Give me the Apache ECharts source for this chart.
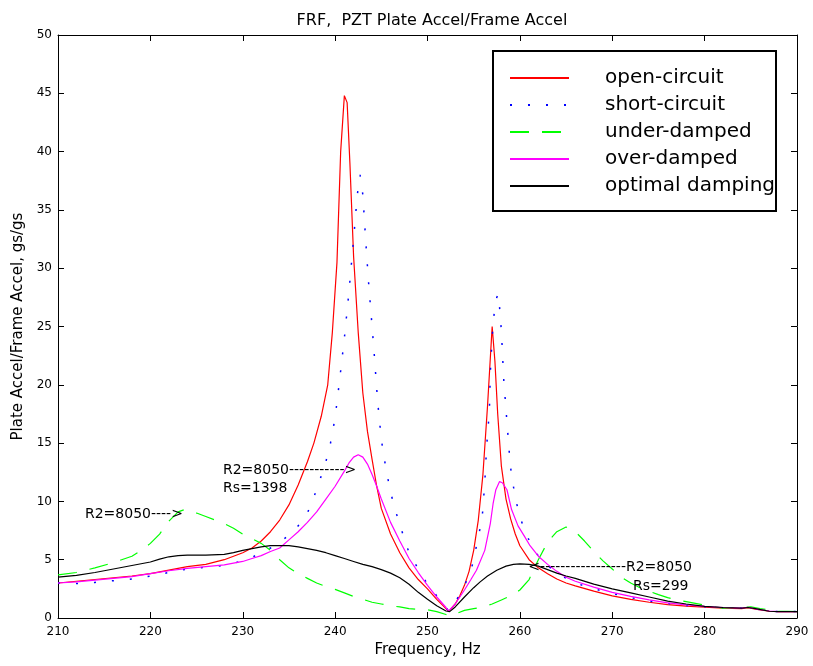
<!DOCTYPE html>
<html>
<head>
<meta charset="utf-8">
<script src="https://cdn.jsdelivr.net/npm/echarts@6/dist/echarts.min.js"></script>
<style>
  html, body { margin: 0; padding: 0; background: #fff; }
  #chart { width: 813px; height: 666px; }
</style>
</head>
<body>
<div id="chart"></div>
<script>
// Frequency response: PZT plate acceleration over frame acceleration (gs/gs)
const xTicks = [210, 220, 230, 240, 250, 260, 270, 280, 290];
const yTicks = [0, 5, 10, 15, 20, 25, 30, 35, 40, 45, 50];

const seriesNames = ['open-circuit', 'short-circuit', 'under-damped', 'over-damped', 'optimal damping'];

// open-circuit
const openFreq = [210, 212, 214, 216, 218, 220, 222, 224, 226, 228, 230, 231, 232, 233, 234, 235, 236, 237, 237.7, 238.5, 239.2, 239.7, 240.2, 240.6, 241.0, 241.3, 241.6, 242.0, 242.5, 243.0, 243.5, 244, 244.5, 245, 246, 247, 248, 249, 250, 251, 252, 252.3, 253, 253.5, 254, 254.5, 255, 255.5, 256, 256.5, 257, 257.3, 257.6, 258, 258.5, 259, 259.5, 260, 261, 262, 263, 264, 265, 266, 268, 270, 272, 274, 276, 278, 280, 282, 284, 284.7, 285.5, 287, 288, 290];
const openAccel = [3.0, 3.15, 3.3, 3.45, 3.6, 3.8, 4.1, 4.4, 4.6, 5.0, 5.6, 6.0, 6.6, 7.4, 8.4, 9.7, 11.4, 13.4, 15.0, 17.3, 20.0, 24.5, 30.5, 40.0, 44.8, 44.2, 39.0, 31.0, 24.5, 19.3, 16.0, 13.6, 11.3, 9.4, 7.2, 5.6, 4.3, 3.3, 2.5, 1.6, 0.8, 0.55, 1.2, 1.9, 2.8, 4.0, 5.8, 8.4, 12.3, 18.2, 25.0, 22.0, 17.5, 13.0, 10.2, 8.5, 7.2, 6.2, 5.0, 4.3, 3.8, 3.35, 3.0, 2.75, 2.3, 1.9, 1.6, 1.35, 1.15, 1.02, 0.93, 0.85, 0.8, 0.88, 0.75, 0.58, 0.55, 0.55];

// short-circuit
const shortFreq = [210, 212, 214, 216, 218, 220, 222, 224, 226, 228, 230, 231, 232, 233, 234, 235, 236, 237, 238, 238.5, 239, 239.5, 240, 240.5, 241, 241.5, 242, 242.4, 242.7, 243.0, 243.3, 243.6, 243.9, 244.2, 244.6, 245, 245.5, 246, 246.5, 247, 247.5, 248, 249, 250, 251, 252, 252.3, 253, 253.5, 254, 254.6, 255, 255.5, 255.9, 256.2, 256.4, 256.7, 256.8, 257.0, 257.2, 257.5, 257.7, 257.85, 258.0, 258.2, 258.3, 258.5, 258.6, 258.8, 258.9, 259.2, 259.5, 260, 260.7, 261.5, 262, 263, 264, 265, 266, 268, 270, 272, 274, 276, 278, 280, 282, 284, 284.7, 285.5, 287, 288, 290];
const shortAccel = [3.0, 2.95, 3.05, 3.2, 3.35, 3.6, 3.9, 4.2, 4.35, 4.5, 4.9, 5.2, 5.6, 6.0, 6.5, 7.1, 7.9, 9.0, 11.0, 12.2, 13.4, 15.0, 17.2, 20.5, 24.0, 28.0, 32.5, 36.3, 38.0, 36.3, 32.5, 29.0, 26.0, 23.0, 18.6, 15.3, 12.8, 10.8, 9.3, 8.0, 6.8, 5.6, 4.2, 2.9, 1.9, 0.9, 0.6, 1.3, 2.1, 2.8, 3.8, 5.0, 7.0, 8.4, 11.6, 14.7, 17.8, 21.0, 24.1, 26.0, 27.5, 27.8, 26.1, 24.6, 21.3, 19.7, 18.1, 16.6, 15.0, 13.4, 11.8, 10.3, 8.7, 7.1, 6.0, 5.3, 4.5, 3.9, 3.4, 3.0, 2.5, 2.1, 1.75, 1.45, 1.25, 1.08, 0.97, 0.88, 0.83, 0.9, 0.78, 0.6, 0.55, 0.55];

// under-damped
const underFreq = [210, 212, 214, 216, 218, 219, 220, 221, 222, 223, 223.7, 225, 226, 227, 228, 229, 230, 231, 232, 233, 234, 235, 236, 237, 238, 239, 240, 241, 242, 243, 244, 245, 246, 247, 248, 249, 250, 251, 252, 252.5, 253, 254, 255, 256, 257, 258, 259, 260, 261, 262, 263, 264, 265, 266, 267, 268, 269, 270, 271, 272, 273, 274, 275, 276, 277, 278, 280, 282, 284, 285, 286, 288, 290];
const underAccel = [3.7, 3.9, 4.3, 4.75, 5.3, 5.8, 6.4, 7.2, 8.3, 9.1, 9.3, 9.0, 8.7, 8.4, 8.1, 7.7, 7.2, 6.8, 6.4, 5.8, 5.0, 4.3, 3.8, 3.4, 3.0, 2.7, 2.45, 2.15, 1.85, 1.6, 1.35, 1.2, 1.05, 0.95, 0.8, 0.75, 0.7, 0.55, 0.3, 0.15, 0.35, 0.65, 0.8, 0.95, 1.2, 1.55, 1.9, 2.4, 3.3, 5.0, 6.5, 7.4, 7.8, 7.4, 6.6, 5.7, 4.9, 4.2, 3.5, 3.0, 2.6, 2.3, 2.0, 1.75, 1.55, 1.4, 1.1, 0.85, 0.9, 0.95, 0.8, 0.6, 0.55];

// over-damped
const overFreq = [210, 212, 214, 216, 218, 220, 222, 224, 226, 228, 230, 231, 232, 233, 234, 235, 236, 237, 238, 239, 240, 241, 241.5, 242, 242.5, 243, 243.5, 244, 244.5, 245, 246, 247, 248, 249, 250, 251, 252, 252.3, 253, 254, 254.7, 255.3, 256.2, 256.8, 257.1, 257.4, 257.8, 258.1, 258.6, 259.1, 259.8, 260.5, 261.1, 262, 263, 264, 265, 266, 268, 270, 272, 274, 276, 278, 280, 282, 284, 284.7, 285.5, 287, 288, 290];
const overAccel = [3.0, 3.1, 3.25, 3.4, 3.55, 3.8, 4.05, 4.25, 4.4, 4.55, 4.85, 5.1, 5.35, 5.7, 6.0, 6.7, 7.4, 8.2, 9.1, 10.2, 11.3, 12.6, 13.3, 13.8, 14.0, 13.8, 13.2, 12.3, 11.3, 10.2, 8.2, 6.6, 5.1, 3.9, 2.8, 1.8, 0.9, 0.6, 1.2, 2.4, 3.3, 4.1, 5.8, 8.1, 9.8, 11.0, 11.7, 11.6, 11.0, 9.3, 7.9, 7.0, 6.2, 5.3, 4.6, 4.0, 3.5, 3.15, 2.65, 2.2, 1.85, 1.55, 1.3, 1.12, 1.0, 0.9, 0.84, 0.92, 0.78, 0.6, 0.55, 0.55];

// optimal damping
const optFreq = [210, 212, 214, 216, 218, 220, 221, 222, 223, 224, 226, 228, 229, 230, 231, 232, 233, 234, 235, 236, 237, 238, 239, 240, 241, 242, 243, 244, 245, 246, 247, 248, 249, 250, 251, 252, 252.4, 253, 254, 255, 255.7, 256.5, 257.5, 258.5, 259.3, 260, 261, 262, 263, 264, 265, 266, 268, 270, 272, 274, 276, 278, 280, 282, 284, 284.7, 285.5, 287, 288, 290];
const optAccel = [3.5, 3.65, 3.9, 4.2, 4.5, 4.8, 5.05, 5.25, 5.35, 5.4, 5.4, 5.45, 5.6, 5.8, 5.95, 6.1, 6.2, 6.22, 6.2, 6.1, 5.95, 5.8, 5.6, 5.35, 5.1, 4.85, 4.6, 4.4, 4.15, 3.85, 3.45, 2.9, 2.2, 1.6, 1.05, 0.6, 0.55, 0.95, 1.8, 2.6, 3.1, 3.6, 4.1, 4.45, 4.6, 4.65, 4.6, 4.45, 4.15, 3.85, 3.6, 3.4, 2.9, 2.5, 2.15, 1.8, 1.45, 1.2, 1.0, 0.9, 0.85, 0.9, 0.8, 0.58, 0.55, 0.55];

// Text notes placed at data coordinates
const notes = [
  { text: 'R2=8050---->', at: [212.92, 8.92], align: 'left' },
  { text: 'R2=8050----------->', at: [227.86, 12.69], align: 'left' },
  { text: 'Rs=1398', at: [227.86, 11.15], align: 'left' },
  { text: '<-----------------R2=8050', at: [278.63, 4.37], align: 'right' },
  { text: 'Rs=299', at: [272.25, 2.74], align: 'left' }
];

const FONT = 'DejaVu Sans';
const pairs = (xs, ys) => xs.map((x, i) => [x, ys[i]]);

const chart = echarts.init(document.getElementById('chart'), null, { renderer: 'canvas' });

const axisCommon = {
  type: 'value',
  axisLine: { show: true, onZero: false, lineStyle: { color: '#000', width: 1 } },
  axisTick: { show: true, inside: true, length: 6, lineStyle: { color: '#000' } },
  splitLine: { show: false }
};

const mkSeries = (name, xs, ys, color, dash, width) => ({
  name: name,
  type: 'line',
  data: pairs(xs, ys),
  symbol: 'none',
  smooth: false,
  animation: false,
  lineStyle: { color: color, width: width, type: dash },
  itemStyle: { color: color }
});

chart.setOption({
  animation: false,
  backgroundColor: '#fff',
  title: {
    text: 'FRF,  PZT Plate Accel/Frame Accel',
    left: 427,
    top: 8,
    textAlign: 'center',
    textStyle: { fontFamily: FONT, fontSize: 16, fontWeight: 'normal', color: '#000' }
  },
  grid: { left: 58, right: 16, top: 35, bottom: 48, containLabel: false, outerBoundsMode: 'none' },
  legend: {
    data: seriesNames,
    orient: 'vertical',
    left: 509,
    top: 68,
    itemWidth: 59,
    itemHeight: 14,
    itemGap: 7,
    padding: 0,
    // line-only keys: hide the marker drawn on each key line
    itemStyle: { opacity: 0 },
    textStyle: { fontFamily: FONT, fontSize: 20, color: '#000', lineHeight: 20, padding: [0, 0, 0, 31] }
  },
  xAxis: [
    Object.assign({}, axisCommon, {
      min: xTicks[0], max: xTicks[xTicks.length - 1], interval: 10,
      position: 'bottom',
      name: 'Frequency, Hz', nameLocation: 'middle', nameGap: 21,
      nameTextStyle: { fontFamily: FONT, fontSize: 15, color: '#000' },
      axisLabel: { fontFamily: FONT, fontSize: 12, color: '#000', margin: 8 }
    }),
    Object.assign({}, axisCommon, {
      min: xTicks[0], max: xTicks[xTicks.length - 1], interval: 10,
      position: 'top', axisLabel: { show: false }
    })
  ],
  yAxis: [
    Object.assign({}, axisCommon, {
      min: yTicks[0], max: yTicks[yTicks.length - 1], interval: 5,
      position: 'left',
      name: 'Plate Accel/Frame Accel, gs/gs', nameLocation: 'middle', nameGap: 32,
      nameTextStyle: { fontFamily: FONT, fontSize: 15, color: '#000' },
      axisLabel: { fontFamily: FONT, fontSize: 12, color: '#000', margin: 6 }
    }),
    Object.assign({}, axisCommon, {
      min: yTicks[0], max: yTicks[yTicks.length - 1], interval: 5,
      position: 'right', axisLabel: { show: false }
    })
  ],
  series: [
    mkSeries(seriesNames[0], openFreq, openAccel, '#ff0000', 'solid', 1.2),
    mkSeries(seriesNames[1], shortFreq, shortAccel, '#0000ff', [2, 16], 1.5),
    mkSeries(seriesNames[2], underFreq, underAccel, '#00ff00', [19, 13], 1.2),
    mkSeries(seriesNames[3], overFreq, overAccel, '#ff00ff', 'solid', 1.2),
    mkSeries(seriesNames[4], optFreq, optAccel, '#000000', 'solid', 1.2)
  ]
});

// Legend frame and text notes, positioned through the grid's coordinate system
const graphics = [{
  type: 'rect',
  z: 0,
  shape: { x: 493, y: 51, width: 283, height: 160 },
  style: { fill: '#fff', stroke: '#000', lineWidth: 2 }
}];
notes.forEach(n => {
  const p = chart.convertToPixel({ xAxisIndex: 0, yAxisIndex: 0 }, n.at);
  graphics.push({
    type: 'text',
    z: 10,
    style: {
      text: n.text, x: p[0], y: p[1],
      fontFamily: FONT, fontSize: 14, fill: '#000',
      align: n.align, verticalAlign: 'middle'
    }
  });
});
chart.setOption({ graphic: graphics });
</script>
</body>
</html>
